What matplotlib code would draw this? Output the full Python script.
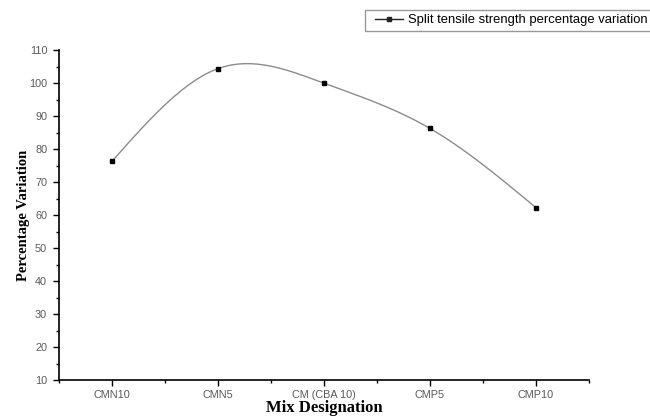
import numpy as np
import matplotlib.pyplot as plt
from matplotlib.lines import Line2D
from matplotlib.legend_handler import HandlerLine2D
from matplotlib.ticker import MultipleLocator

mixes = ['CMN10', 'CMN5', 'CM (CBA 10)', 'CMP5', 'CMP10']
variation = [76.3, 104.4, 100.0, 86.3, 62.3]


def natural_spline(x, y, xs):
    # plain natural cubic spline, used only to draw the smooth line
    x = np.asarray(x, float)
    y = np.asarray(y, float)
    n = len(x)
    h = np.diff(x)
    A = np.zeros((n, n))
    b = np.zeros(n)
    A[0, 0] = A[-1, -1] = 1
    for i in range(1, n - 1):
        A[i, i - 1] = h[i - 1]
        A[i, i] = 2 * (h[i - 1] + h[i])
        A[i, i + 1] = h[i]
        b[i] = 3 * ((y[i + 1] - y[i]) / h[i] - (y[i] - y[i - 1]) / h[i - 1])
    c = np.linalg.solve(A, b)
    out = []
    for t in xs:
        i = min(np.searchsorted(x, t, side='right') - 1, n - 2)
        i = max(i, 0)
        d = t - x[i]
        bi = (y[i + 1] - y[i]) / h[i] - h[i] * (2 * c[i] + c[i + 1]) / 3
        di = (c[i + 1] - c[i]) / (3 * h[i])
        out.append(y[i] + bi * d + c[i] * d ** 2 + di * d ** 3)
    return np.array(out)


pos = np.arange(len(mixes))
xs = np.linspace(pos[0], pos[-1], 300)
ys = natural_spline(pos, variation, xs)

fig = plt.figure(figsize=(6.5, 4.17), dpi=100)
ax = fig.add_axes([0.0908, 0.0887, 0.815, 0.791])

ax.plot(xs, ys, color='#8c8c8c', lw=1.0)
ax.plot(pos, variation, 's', color='black', ms=3.3)

ax.set_xlim(-0.5, 4.5)
ax.set_ylim(10, 110)
ax.set_xticks(pos)
ax.set_xticklabels(mixes)
ax.xaxis.set_minor_locator(MultipleLocator(0.5))
ax.yaxis.set_major_locator(MultipleLocator(10))
ax.yaxis.set_minor_locator(MultipleLocator(5))
ax.tick_params(which='major', direction='out', length=4.5, width=1, labelsize=7.8, pad=4,
               labelcolor='#5a5a5a', labelfontfamily='Liberation Sans')
ax.tick_params(which='minor', direction='out', length=2.5, width=1)
ax.tick_params(axis='x', which='major', pad=3)
for s in ['top', 'right']:
    ax.spines[s].set_visible(False)
for s in ['left', 'bottom']:
    ax.spines[s].set_linewidth(1.2)

ax.set_ylabel('Percentage Variation', family='Liberation Serif', fontweight='bold', fontsize=10.5, labelpad=-1)
ax.set_xlabel('Mix Designation', family='Liberation Serif', fontweight='bold', fontsize=12, labelpad=0)

handle = Line2D([], [], color='#222222', marker='s', ms=3.3, lw=1.0)
leg = fig.legend([handle], ['Split tensile strength percentage variation'],
                 loc='upper left', bbox_to_anchor=(365 / 650, 1 - 9.5 / 417),
                 borderaxespad=0, prop={'family': 'Liberation Sans', 'size': 9.4},
                 frameon=True, fancybox=False, borderpad=0.35,
                 handlelength=2.55, handletextpad=0.38,
                 handler_map={Line2D: HandlerLine2D(xpad=0.42)})
leg.get_frame().set_edgecolor('#808080')
leg.get_frame().set_linewidth(1.0)

fig.savefig('out.png', dpi=100)
